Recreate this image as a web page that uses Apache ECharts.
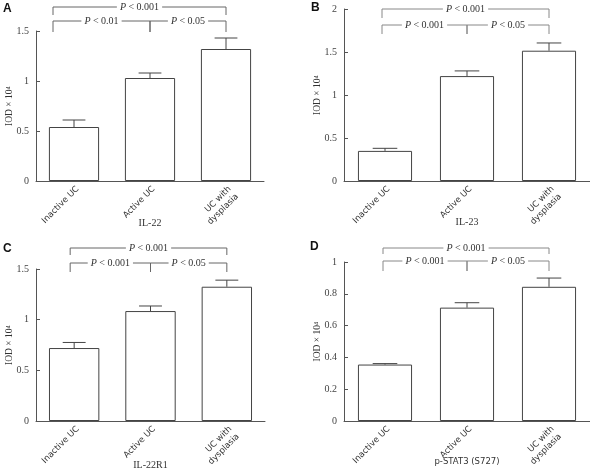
<!DOCTYPE html>
<html><head><meta charset="utf-8">
<script src="https://cdn.jsdelivr.net/npm/echarts@6/dist/echarts.min.js"></script>
<style>html,body{margin:0;padding:0;background:#fff}#c{width:590px;height:471px}</style>
</head><body><div id="c"></div>
<script>
// ---- data ----
const categories = ['Inactive UC', 'Active UC', 'UC with\ndysplasia'];
const il22Mean = [0.54, 1.03, 1.32];
const il22Err = [0.07, 0.05, 0.11];
const il23Mean = [0.35, 1.22, 1.515];
const il23Err = [0.03, 0.06, 0.09];
const il22r1Mean = [0.72, 1.085, 1.325];
const il22r1Err = [0.055, 0.05, 0.065];
const pstat3Mean = [0.355, 0.713, 0.844];
const pstat3Err = [0.006, 0.031, 0.055];
const comparisons = [[0, 2], [0, 1], [1, 2]];
const sigA = ['P < 0.001', 'P < 0.01', 'P < 0.05'];
const sigB = ['P < 0.001', 'P < 0.001', 'P < 0.05'];
const sigC = ['P < 0.001', 'P < 0.001', 'P < 0.05'];
const sigD = ['P < 0.001', 'P < 0.001', 'P < 0.05'];
const yMaxes = [1.5, 2, 1.5, 1];
const ySteps = [0.5, 0.5, 0.5, 0.2];
const panelLetters = ['A', 'B', 'C', 'D'];
const xNames = ['IL-22', 'IL-23', 'IL-22R1', 'p-STAT3 (S727)'];
const yName = 'IOD × 10⁴';

// ---- layout / style ----
const panels = [
  {mean: il22Mean, err: il22Err, sig: sigA,
   g: {left: 36, top: 31, width: 228, height: 150}, title: {left: 3, top: 3}, nameGap: 37, nameSans: false,
   br: {top: -24, topDrop: -16, inner: -10, innerDrop: 1, lshift: -21}, brColor: '#666'},
  {mean: il23Mean, err: il23Err, sig: sigB,
   g: {left: 344, top: 9, width: 246, height: 172}, title: {left: 311, top: 2}, nameGap: 36, nameSans: false,
   br: {top: 0, topDrop: 9, inner: 16, innerDrop: 25, lshift: -3}, brColor: '#888'},
  {mean: il22r1Mean, err: il22r1Err, sig: sigC,
   g: {left: 36, top: 269, width: 229, height: 152}, title: {left: 3, top: 243}, nameGap: 39, nameSans: false,
   br: {top: -21, topDrop: -14, inner: -6, innerDrop: 3, lshift: -4}, brColor: '#666'},
  {mean: pstat3Mean, err: pstat3Err, sig: sigD,
   g: {left: 344, top: 262, width: 246, height: 159}, title: {left: 310, top: 241}, nameGap: 36, nameSans: true,
   br: {top: -14, topDrop: -8, inner: -1, innerDrop: 9, lshift: -2}, brColor: '#888'}
];

const SERIF = '"Liberation Serif", "Times New Roman", serif';
const SANS = '"DejaVu Sans", Verdana, sans-serif';
const AX = '#555';

const grid = [], xAxis = [], yAxis = [], series = [], title = [];

panels.forEach((p, i) => {
  grid.push(Object.assign({containLabel: false, outerBoundsMode: 'none'}, p.g));
  title.push({text: panelLetters[i], left: p.title.left, top: p.title.top, padding: 0,
    textStyle: {fontFamily: '"Liberation Sans", Arial, sans-serif', fontWeight: 'bold', fontSize: 12, color: '#111'}});
  xAxis.push({
    type: 'category', gridIndex: i, data: categories,
    name: xNames[i], nameLocation: 'middle', nameGap: p.nameGap, nameMoveOverlap: false,
    nameTextStyle: {fontFamily: p.nameSans ? SANS : SERIF, fontSize: p.nameSans ? 8.5 : 10, color: '#333'},
    axisLine: {lineStyle: {color: AX, width: 1}},
    axisTick: {inside: true, alignWithLabel: true, length: 3, lineStyle: {color: AX}},
    axisLabel: {interval: 0, rotate: 45, margin: 3, fontFamily: SANS, fontSize: 8.5, color: '#333',
                lineHeight: 10.5, verticalAlign: 'top'}
  });
  yAxis.push({
    type: 'value', gridIndex: i, min: 0, max: yMaxes[i], interval: ySteps[i],
    name: yName, nameLocation: 'middle', nameRotate: 90, nameGap: 22, nameMoveOverlap: false,
    nameTextStyle: {fontFamily: SERIF, fontSize: 9.5, color: '#333'},
    axisLine: {show: true, lineStyle: {color: AX, width: 1}},
    axisTick: {show: true, inside: true, length: 4, lineStyle: {color: AX}},
    axisLabel: {margin: 7, fontFamily: SERIF, fontSize: 10, color: '#444'},
    splitLine: {show: false}
  });
  series.push({
    type: 'bar', xAxisIndex: i, yAxisIndex: i, data: p.mean, barWidth: '66%',
    itemStyle: {color: '#fff', borderColor: '#444', borderWidth: 1},
    emphasis: {disabled: true}, animation: false, z: 2
  });
  series.push({
    type: 'custom', xAxisIndex: i, yAxisIndex: i, clip: false, animation: false, z: 3,
    data: p.mean.map((m, k) => [k, m, p.err[k]]),
    encode: {x: 0, y: 1},
    renderItem: function (params, api) {
      const k = api.value(0), m = api.value(1), e = api.value(2);
      const p0 = api.coord([k, m]), p1 = api.coord([k, m + e]);
      const hw = api.size([1, 0])[0] * 0.15;
      const st = {stroke: '#444', lineWidth: 1};
      return {type: 'group', children: [
        {type: 'line', shape: {x1: p0[0], y1: p0[1], x2: p1[0], y2: p1[1]}, style: st},
        {type: 'line', shape: {x1: p1[0] - hw, y1: p1[1], x2: p1[0] + hw, y2: p1[1]}, style: st}
      ]};
    }
  });
  series.push({
    type: 'custom', xAxisIndex: i, yAxisIndex: i, clip: false, animation: false, z: 4, silent: true,
    data: comparisons.map((c, k) => [c[0], c[1], k]),
    encode: {x: [0, 1], y: 2},
    renderItem: function (params, api) {
      const a = api.value(0), b = api.value(1), k = api.value(2);
      const gt = api.coord([0, yMaxes[i]])[1];
      const isTop = (b - a) === 2;
      const y = gt + (isTop ? p.br.top : p.br.inner);
      const yd = gt + (isTop ? p.br.topDrop : p.br.innerDrop);
      let x1 = api.coord([a, 0])[0], x2 = api.coord([b, 0])[0];
      if (a === 0) x1 += p.br.lshift;
      const label = p.sig[k].replace(/^P/, '{i|P}');
      return {type: 'group', children: [
        {type: 'polyline', shape: {points: [[x1, yd], [x1, y], [x2, y], [x2, yd]]},
         style: {stroke: p.brColor, lineWidth: 1, fill: null}},
        {type: 'text', x: (x1 + x2) / 2, y: y, z2: 10,
         style: {text: label, align: 'center', verticalAlign: 'middle',
                 fontFamily: SERIF, fontSize: 10, fill: '#333',
                 backgroundColor: '#fff', padding: [0, 3],
                 rich: {i: {fontStyle: 'italic', fontFamily: SERIF, fontSize: 10, fill: '#333'}}}}
      ]};
    }
  });
});

const chart = echarts.init(document.getElementById('c'), null, {renderer: 'canvas'});
chart.setOption({animation: false, backgroundColor: '#fff', title, grid, xAxis, yAxis, series, tooltip: {show: false}});
</script>
</body></html>
